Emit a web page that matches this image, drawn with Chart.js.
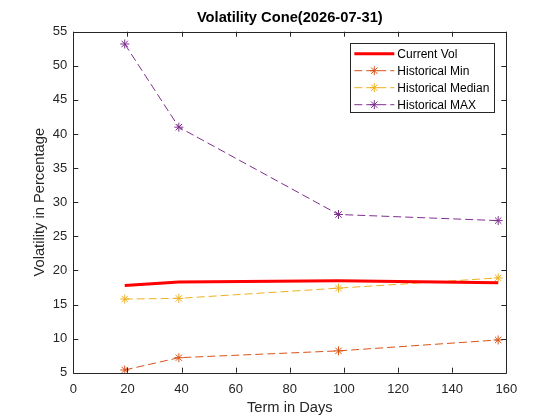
<!DOCTYPE html>
<html>
<head>
<meta charset="utf-8">
<title>Volatility Cone</title>
<script src="https://cdn.jsdelivr.net/npm/chart.js@4.4.1/dist/chart.umd.min.js"></script>
<style>
  html, body { margin: 0; padding: 0; background: #fff; }
  #wrap { width: 560px; height: 420px; }
</style>
</head>
<body>
<div id="wrap"><canvas id="volChart" width="560" height="420"></canvas></div>
<script>
// term in days
var terms = [19, 39, 98, 157];
// volatility in percentage
var currentVol = [17.8, 18.3, 18.5, 18.2];
var histMin = [5.4, 7.2, 8.2, 9.8];
var histMedian = [15.8, 15.9, 17.4, 18.9];
var histMax = [53.2, 41.0, 28.2, 27.3];
var seriesNames = ["Current Vol", "Historical Min", "Historical Median", "Historical MAX"];
var chartTitle = "Volatility Cone(2026-07-31)";

var axisColor = "#262626";
var fontFamily = "Arial, 'Liberation Sans', Helvetica, sans-serif";

function toPoints(vals) {
  var pts = [];
  for (var i = 0; i < terms.length; i++) {
    pts.push({ x: terms[i], y: vals[i] });
  }
  return pts;
}

function dashedSet(label, vals, color) {
  return {
    label: label,
    data: toPoints(vals),
    borderColor: color,
    backgroundColor: color,
    borderWidth: 1,
    borderDash: [8, 4],
    pointStyle: "star",
    pointRadius: 4.5,
    pointBorderWidth: 1,
    pointBorderColor: color,
    tension: 0
  };
}

// matlab style box with ticks pointing inwards, title centred on the axes
var boxPlugin = {
  id: "boxTicks",
  afterDraw: function(chart) {
    var ctx = chart.ctx, a = chart.chartArea;
    var len = 5;
    ctx.save();
    ctx.strokeStyle = axisColor;
    ctx.lineWidth = 1;
    ctx.beginPath();
    ctx.rect(Math.round(a.left) + 0.5, Math.round(a.top) + 0.5,
             Math.round(a.right - a.left), Math.round(a.bottom - a.top));
    var xs = chart.scales.x, ys = chart.scales.y;
    xs.ticks.forEach(function(t) {
      var px = Math.round(xs.getPixelForValue(t.value)) + 0.5;
      ctx.moveTo(px, a.bottom); ctx.lineTo(px, a.bottom - len);
      ctx.moveTo(px, a.top); ctx.lineTo(px, a.top + len);
    });
    ys.ticks.forEach(function(t) {
      var py = Math.round(ys.getPixelForValue(t.value)) + 0.5;
      ctx.moveTo(a.left, py); ctx.lineTo(a.left + len, py);
      ctx.moveTo(a.right, py); ctx.lineTo(a.right - len, py);
    });
    ctx.stroke();

    ctx.fillStyle = "#000";
    ctx.font = "bold 14.7px " + fontFamily;
    ctx.textAlign = "center";
    ctx.textBaseline = "middle";
    ctx.fillText(chartTitle, (a.left + a.right) / 2, a.top - 14);
    ctx.restore();
  }
};

// legend drawn inside the plot, top right
var innerLegend = {
  id: "innerLegend",
  afterDraw: function(chart) {
    var ctx = chart.ctx, a = chart.chartArea;
    var sets = chart.data.datasets;
    var rowH = 17, w = 144;
    var h = rowH * sets.length + 1;
    var x0 = a.right - 12 - w, y0 = a.top + 11.5;
    ctx.save();
    ctx.fillStyle = "#fff";
    ctx.fillRect(x0, y0, w, h);
    ctx.strokeStyle = axisColor;
    ctx.lineWidth = 1;
    ctx.strokeRect(Math.round(x0) + 0.5, Math.round(y0) + 0.5, w, h);
    ctx.font = "12px " + fontFamily;
    ctx.textBaseline = "middle";
    for (var i = 0; i < sets.length; i++) {
      var ds = sets[i];
      var cy = y0 + 10.5 + i * rowH;
      var lx1 = x0 + 4, lx2 = x0 + 44;
      ctx.strokeStyle = ds.borderColor;
      ctx.lineWidth = ds.borderWidth;
      ctx.setLineDash(ds.borderDash || []);
      ctx.beginPath();
      ctx.moveTo(lx1, cy); ctx.lineTo(lx2, cy);
      ctx.stroke();
      ctx.setLineDash([]);
      if (ds.pointStyle === "star") {
        ctx.lineWidth = 1;
        Chart.helpers.drawPoint(ctx, { pointStyle: "star", radius: 4.5, borderWidth: 1 }, (lx1 + lx2) / 2, cy);
      }
      ctx.fillStyle = "#000";
      ctx.fillText(ds.label, x0 + 47, cy + 0.5);
    }
    ctx.restore();
  }
};

var datasets = [
  {
    label: seriesNames[0],
    data: toPoints(currentVol),
    borderColor: "#ff0000",
    backgroundColor: "#ff0000",
    borderWidth: 3,
    pointRadius: 0,
    tension: 0
  },
  dashedSet(seriesNames[1], histMin, "#D95319"),
  dashedSet(seriesNames[2], histMedian, "#EDB120"),
  dashedSet(seriesNames[3], histMax, "#7E2F8E")
];

var chart = new Chart(document.getElementById("volChart").getContext("2d"), {
  type: "line",
  data: { datasets: datasets },
  options: {
    responsive: false,
    animation: false,
    layout: { padding: { left: 0, right: 53.7, top: 31.7, bottom: 0 } },
    plugins: {
      legend: { display: false },
      tooltip: { enabled: false },
      title: { display: false }
    },
    scales: {
      x: {
        type: "linear",
        min: 0,
        max: 160,
        ticks: { stepSize: 20, color: axisColor, padding: 9, maxRotation: 0,
                 font: { family: fontFamily, size: 13 } },
        grid: { display: false, drawTicks: false },
        border: { display: false },
        title: { display: true, text: "Term in Days", color: axisColor,
                 font: { family: fontFamily, size: 14.7 }, padding: { top: 0, bottom: 3 } },
        afterFit: function(scale) { scale.height = 47.3; }
      },
      y: {
        type: "linear",
        min: 5,
        max: 55,
        ticks: { stepSize: 5, color: axisColor, padding: 6,
                 font: { family: fontFamily, size: 13 } },
        grid: { display: false, drawTicks: false },
        border: { display: false },
        title: { display: true, text: "Volatility in Percentage", color: axisColor,
                 font: { family: fontFamily, size: 14.7 }, padding: { top: 31, bottom: 0 } },
        afterFit: function(scale) { scale.width = 73.3; }
      }
    }
  },
  plugins: [boxPlugin, innerLegend]
});
</script>
</body>
</html>
